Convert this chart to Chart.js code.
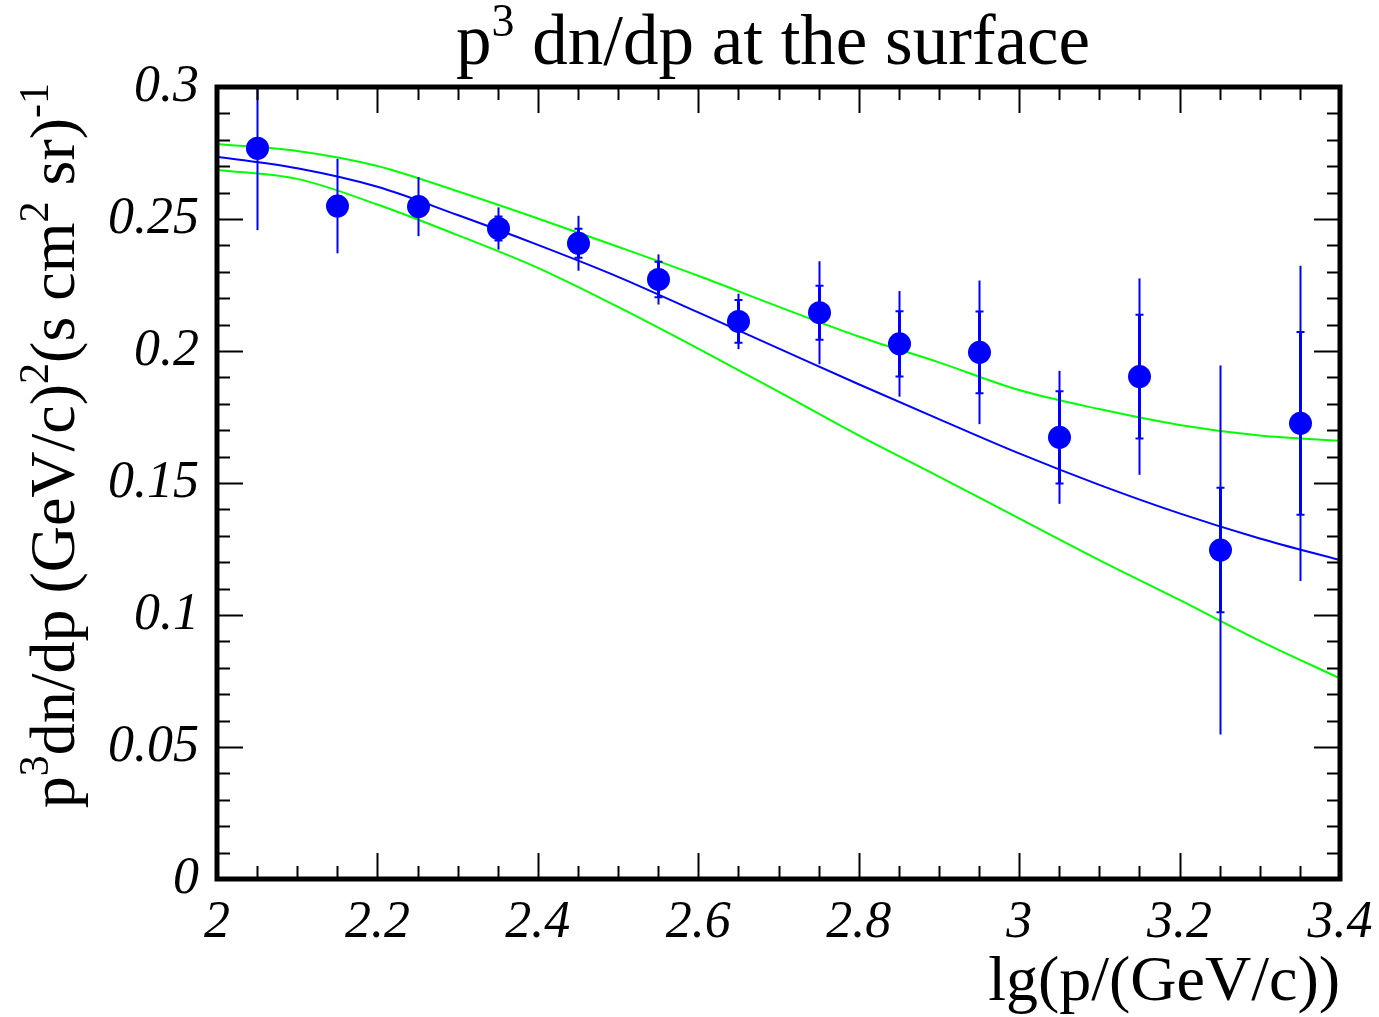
<!DOCTYPE html>
<html>
<head>
<meta charset="utf-8">
<script src="https://cdn.jsdelivr.net/npm/chart.js@4/dist/chart.umd.min.js"></script>
<style>
  html, body { margin: 0; padding: 0; background: #ffffff; }
  #wrap { width: 1379px; height: 1017px; position: relative; }
</style>
</head>
<body>
<div id="wrap"><canvas id="c" width="1379" height="1017"></canvas></div>
<script>
// Measured points: bin centres in lg(p), flux, total and statistical errors
const binCentres = [2.05, 2.15, 2.25, 2.35, 2.45, 2.55, 2.65, 2.75, 2.85, 2.95, 3.05, 3.15, 3.25, 3.35];
const fluxValues = [0.2768, 0.2549, 0.2547, 0.2464, 0.2408, 0.2271, 0.2112, 0.2145, 0.2027, 0.1995, 0.1673, 0.1903, 0.1246, 0.1726];
const totalErrors = [0.031, 0.0179, 0.0112, 0.008, 0.0104, 0.0095, 0.0105, 0.0195, 0.0200, 0.0272, 0.0252, 0.0372, 0.0699, 0.0597];
const statErrors = [0.003, 0.003, 0.0035, 0.0045, 0.0055, 0.0067, 0.0081, 0.0102, 0.0124, 0.0155, 0.0175, 0.0234, 0.0236, 0.0346];

// Model curves: central prediction and its upper/lower band
const curveX = [2.0, 2.1, 2.2, 2.3, 2.4, 2.5, 2.6, 2.7, 2.8, 2.9, 3.0, 3.1, 3.2, 3.3, 3.4];
const modelCentral = [0.2736, 0.2692, 0.2622, 0.2515, 0.2402, 0.2281, 0.2146, 0.2010, 0.1874, 0.1742, 0.1612, 0.1493, 0.1385, 0.1290, 0.1208];
const modelUpper = [0.2784, 0.2758, 0.2701, 0.2605, 0.2502, 0.2395, 0.2285, 0.2168, 0.2055, 0.1957, 0.1852, 0.1780, 0.1720, 0.1680, 0.1660];
const modelLower = [0.2686, 0.2652, 0.2555, 0.2439, 0.2315, 0.2167, 0.2009, 0.1846, 0.1680, 0.1524, 0.1366, 0.1208, 0.1057, 0.0902, 0.0760];

// Axis ranges and tick steps
const xRange = [2.0, 3.4];
const yRange = [0, 0.3];
const xMajorStep = 0.2, xMinorStep = 0.05;
const yMajorStep = 0.05, yMinorStep = 0.01;

const BLUE = '#0000ff';
const GREEN = '#00ff00';
const SERIF = '"Liberation Serif", "DejaVu Serif", serif';

function pairs(xs, ys) { return xs.map((x, i) => ({ x: x, y: ys[i] })); }
function fmt(v) { return String(Number(v.toFixed(3))); }

// Text made of plain and superscript pieces
function richWidth(ctx, parts, size) {
  let w = 0;
  for (const p of parts) {
    ctx.font = (p.sup ? Math.round(size * 0.65) : size) + 'px ' + SERIF;
    w += ctx.measureText(p.t).width;
  }
  return w;
}
function drawRich(ctx, parts, x, y, size) {
  let cx = x;
  for (const p of parts) {
    const s = p.sup ? Math.round(size * 0.65) : size;
    ctx.font = s + 'px ' + SERIF;
    ctx.fillText(p.t, cx, p.sup ? y - size * 0.4 : y);
    cx += ctx.measureText(p.t).width;
  }
}

const errorBars = {
  id: 'errorBars',
  afterDatasetsDraw(chart) {
    const ctx = chart.ctx, xs = chart.scales.x, ys = chart.scales.y, a = chart.chartArea;
    ctx.save();
    ctx.beginPath();
    ctx.rect(a.left, a.top, a.right - a.left, a.bottom - a.top);
    ctx.clip();
    ctx.strokeStyle = BLUE;
    binCentres.forEach((x, i) => {
      const px = Math.round(xs.getPixelForValue(x)) + 0.5;
      const v = fluxValues[i];
      const tHi = ys.getPixelForValue(v + totalErrors[i]);
      const tLo = ys.getPixelForValue(v - totalErrors[i]);
      const sHi = ys.getPixelForValue(v + statErrors[i]);
      const sLo = ys.getPixelForValue(v - statErrors[i]);
      ctx.lineWidth = 2;
      ctx.beginPath(); ctx.moveTo(px, tHi); ctx.lineTo(px, tLo); ctx.stroke();
      ctx.lineWidth = 3;
      ctx.beginPath(); ctx.moveTo(px, sHi); ctx.lineTo(px, sLo); ctx.stroke();
      ctx.lineWidth = 2;
      ctx.beginPath();
      ctx.moveTo(px - 4, sHi); ctx.lineTo(px + 4, sHi);
      ctx.moveTo(px - 4, sLo); ctx.lineTo(px + 4, sLo);
      ctx.stroke();
      ctx.fillStyle = BLUE;
      ctx.beginPath();
      ctx.arc(px, ys.getPixelForValue(v), 11.5, 0, Math.PI * 2);
      ctx.fill();
    });
    ctx.restore();
  }
};

const frameAndText = {
  id: 'frameAndText',
  afterDraw(chart) {
    const ctx = chart.ctx, xs = chart.scales.x, ys = chart.scales.y, a = chart.chartArea;
    ctx.save();
    ctx.strokeStyle = '#000000';
    ctx.lineWidth = 2;
    ctx.beginPath();
    const nx = Math.round((xRange[1] - xRange[0]) / xMinorStep);
    for (let k = 1; k < nx; k++) {
      const v = xRange[0] + k * xMinorStep;
      const major = Math.abs(v / xMajorStep - Math.round(v / xMajorStep)) < 1e-6;
      const len = major ? 26 : 13;
      const px = Math.round(xs.getPixelForValue(v)) + 0.5;
      ctx.moveTo(px, a.bottom); ctx.lineTo(px, a.bottom - len);
      ctx.moveTo(px, a.top); ctx.lineTo(px, a.top + len);
    }
    const ny = Math.round((yRange[1] - yRange[0]) / yMinorStep);
    for (let k = 1; k < ny; k++) {
      const v = yRange[0] + k * yMinorStep;
      const major = Math.abs(v / yMajorStep - Math.round(v / yMajorStep)) < 1e-6;
      const len = major ? 26 : 13;
      const py = Math.round(ys.getPixelForValue(v)) + 0.5;
      ctx.moveTo(a.left, py); ctx.lineTo(a.left + len, py);
      ctx.moveTo(a.right, py); ctx.lineTo(a.right - len, py);
    }
    ctx.stroke();
    ctx.lineWidth = 5;
    ctx.strokeRect(a.left, a.top, a.right - a.left, a.bottom - a.top);

    ctx.fillStyle = '#000000';
    ctx.textBaseline = 'alphabetic';
    ctx.textAlign = 'left';
    // Title
    const title = [{ t: 'p' }, { t: '3', sup: true }, { t: ' dn/dp at the surface' }];
    const tw = richWidth(ctx, title, 71);
    drawRich(ctx, title, 773 - tw / 2, 64, 71);
    // X axis title, right aligned to the frame
    const xt = [{ t: 'lg(p/(GeV/c))' }];
    const xw = richWidth(ctx, xt, 64);
    drawRich(ctx, xt, a.right - xw, 1000, 64);
    // Y axis title, rotated, ending near the top of the frame
    const yt = [{ t: 'p' }, { t: '3', sup: true }, { t: 'dn/dp (GeV/c)' }, { t: '2', sup: true },
                { t: '(s cm' }, { t: '2', sup: true }, { t: ' sr)' }, { t: '-1', sup: true }];
    const yw = richWidth(ctx, yt, 64);
    ctx.translate(74, a.top - 4);
    ctx.rotate(-Math.PI / 2);
    drawRich(ctx, yt, -yw, 0, 64);
    ctx.restore();
  }
};

new Chart(document.getElementById('c'), {
  type: 'scatter',
  data: {
    datasets: [
      { type: 'line', data: pairs(curveX, modelUpper), borderColor: GREEN, borderWidth: 2, pointRadius: 0, cubicInterpolationMode: 'monotone', fill: false },
      { type: 'line', data: pairs(curveX, modelLower), borderColor: GREEN, borderWidth: 2, pointRadius: 0, cubicInterpolationMode: 'monotone', fill: false },
      { type: 'line', data: pairs(curveX, modelCentral), borderColor: BLUE, borderWidth: 2, pointRadius: 0, cubicInterpolationMode: 'monotone', fill: false },
      { data: pairs(binCentres, fluxValues), pointRadius: 0, backgroundColor: BLUE, borderColor: BLUE }
    ]
  },
  options: {
    responsive: false,
    animation: false,
    layout: { padding: { left: 0, right: 39, top: 87, bottom: 0 } },
    plugins: { legend: { display: false }, tooltip: { enabled: false }, title: { display: false } },
    scales: {
      x: {
        type: 'linear', min: xRange[0], max: xRange[1],
        grid: { display: false }, border: { display: false },
        afterFit(s) { s.height = 138; s.paddingLeft = 0; s.paddingRight = 0; },
        afterBuildTicks(s) {
          const t = [];
          for (let v = xRange[0]; v <= xRange[1] + 1e-9; v += xMajorStep) t.push({ value: Number(v.toFixed(3)) });
          s.ticks = t;
        },
        ticks: {
          color: '#000', padding: 5, maxRotation: 0, autoSkip: false,
          font: { family: SERIF, size: 52, style: 'italic' },
          callback: (v) => fmt(v)
        }
      },
      y: {
        type: 'linear', min: yRange[0], max: yRange[1],
        grid: { display: false }, border: { display: false },
        afterFit(s) { s.width = 217; s.paddingTop = 0; s.paddingBottom = 0; },
        afterBuildTicks(s) {
          const t = [];
          for (let v = yRange[0]; v <= yRange[1] + 1e-9; v += yMajorStep) t.push({ value: Number(v.toFixed(3)) });
          s.ticks = t;
        },
        ticks: {
          color: '#000', padding: 10, autoSkip: false,
          font: { family: SERIF, size: 52, style: 'italic' },
          callback: (v) => fmt(v)
        }
      }
    }
  },
  plugins: [errorBars, frameAndText]
});
</script>
</body>
</html>
